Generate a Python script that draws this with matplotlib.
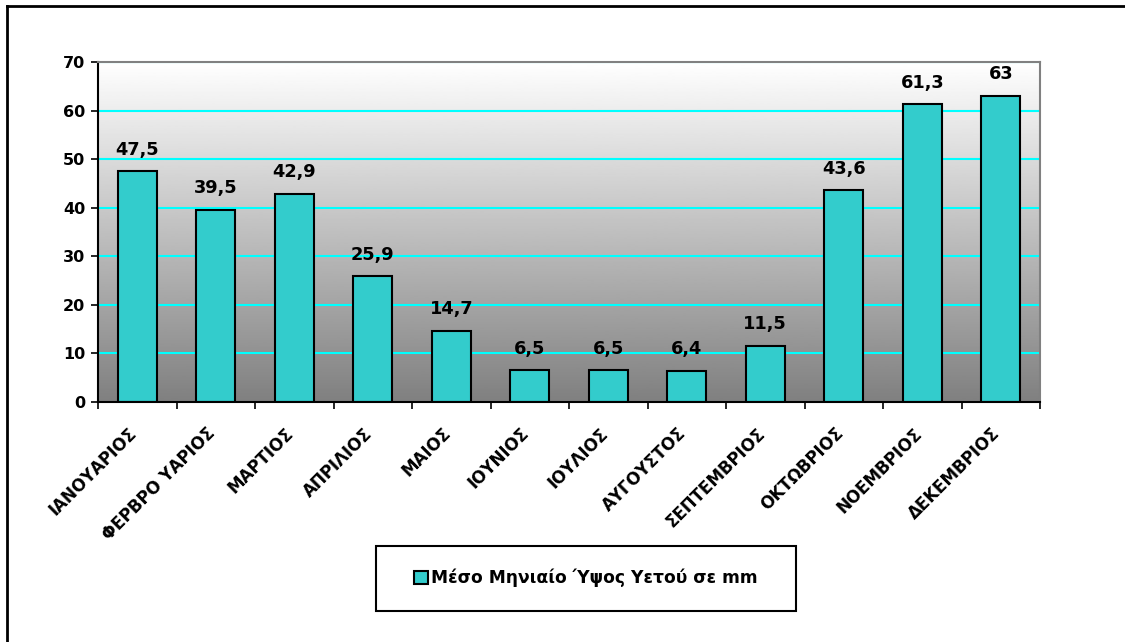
import numpy as np
import matplotlib
matplotlib.use('Agg')
import matplotlib.pyplot as plt
from matplotlib.patches import Rectangle
from matplotlib.lines import Line2D

# μήνες και μέσο μηνιαίο ύψος υετού (mm)
months = ['ΙΑΝΟΥΑΡΙΟΣ', 'ΦΕΡΒΡΟ ΥΑΡΙΟΣ', 'ΜΑΡΤΙΟΣ', 'ΑΠΡΙΛΙΟΣ', 'ΜΑΙΟΣ', 'ΙΟΥΝΙΟΣ',
          'ΙΟΥΛΙΟΣ', 'ΑΥΓΟΥΣΤΟΣ', 'ΣΕΠΤΕΜΒΡΙΟΣ', 'ΟΚΤΩΒΡΙΟΣ', 'ΝΟΕΜΒΡΙΟΣ', 'ΔΕΚΕΜΒΡΙΟΣ']
rain = [47.5, 39.5, 42.9, 25.9, 14.7, 6.5, 6.5, 6.4, 11.5, 43.6, 61.3, 63.0]
yticks = [0, 10, 20, 30, 40, 50, 60, 70]
legend_label = 'Μέσο Μηνιαίο Ύψος Υετού σε mm'

plt.rcParams['font.family'] = ['DejaVu Sans']
plt.rcParams['font.weight'] = 'bold'

W, H = 1125, 642
fig = plt.figure(figsize=(W / 100, H / 100), dpi=100)

# περίγραμμα (μόνο αριστερά και πάνω φαίνονται)
fig.add_artist(Line2D([6.5 / W, 6.5 / W], [0, 1 - 6 / H], color='black', lw=2, transform=fig.transFigure))
fig.add_artist(Line2D([6.5 / W, 1], [1 - 6 / H, 1 - 6 / H], color='black', lw=2, transform=fig.transFigure))

ax = fig.add_axes([98 / W, 1 - 402 / H, (1040 - 98) / W, (402 - 62) / H])

x = np.arange(len(months))
ax.set_xlim(-0.5, len(months) - 0.5)
ax.set_ylim(0, 70)

# διαβάθμιση φόντου: λευκό πάνω, γκρι κάτω
grad = np.linspace(0.5, 1.0, 256).reshape(-1, 1)
ax.imshow(grad, cmap='gray', vmin=0, vmax=1, aspect='auto', origin='lower',
          extent=[-0.5, len(months) - 0.5, 0, 70], zorder=0)

for y in yticks[1:]:
    ax.axhline(y, color='#00FFFF', lw=1.5, zorder=1)

bars = ax.bar(x, rain, width=0.5, color='#33CCCC', edgecolor='black', linewidth=1.5, zorder=2,
              label=legend_label)

for xi, v in zip(x, rain):
    txt = f'{v:g}'.replace('.', ',')
    ax.annotate(txt, (xi, v), xytext=(0, 12), textcoords='offset points', ha='center', va='baseline',
                fontsize=12.8, fontweight='bold')

ax.set_yticks(yticks)
ax.set_yticklabels([str(t) for t in yticks], fontsize=11.5, fontweight='bold')
ax.set_xticks(np.arange(len(months) + 1) - 0.5, minor=False)
ax.set_xticklabels([])
ax.tick_params(axis='both', direction='out', length=5, width=1.2, color='black')
ax.tick_params(axis='y', pad=4)

for xi, m in zip(x, months):
    ax.text(xi - 0.12, -4.6, m, rotation=45, ha='right', va='top', rotation_mode='anchor',
            fontsize=12, fontweight='bold')

for s in ['left', 'bottom']:
    ax.spines[s].set_color('black')
    ax.spines[s].set_linewidth(1.5)
for s in ['top', 'right']:
    ax.spines[s].set_color('#808080')
    ax.spines[s].set_linewidth(1.5)

# υπόμνημα
fig.add_artist(Rectangle((376 / W, 1 - 611 / H), (796 - 376) / W, (611 - 546) / H, fill=False,
                         edgecolor='black', lw=1.5, transform=fig.transFigure))
fig.legend(handles=[bars], labels=[legend_label], loc='center', bbox_to_anchor=(586 / W, 1 - 578 / H),
           frameon=False, handlelength=0.8, handleheight=0.8, handletextpad=0.2,
           prop={'weight': 'bold', 'size': 12.3})

fig.savefig('out.png', dpi=100)
